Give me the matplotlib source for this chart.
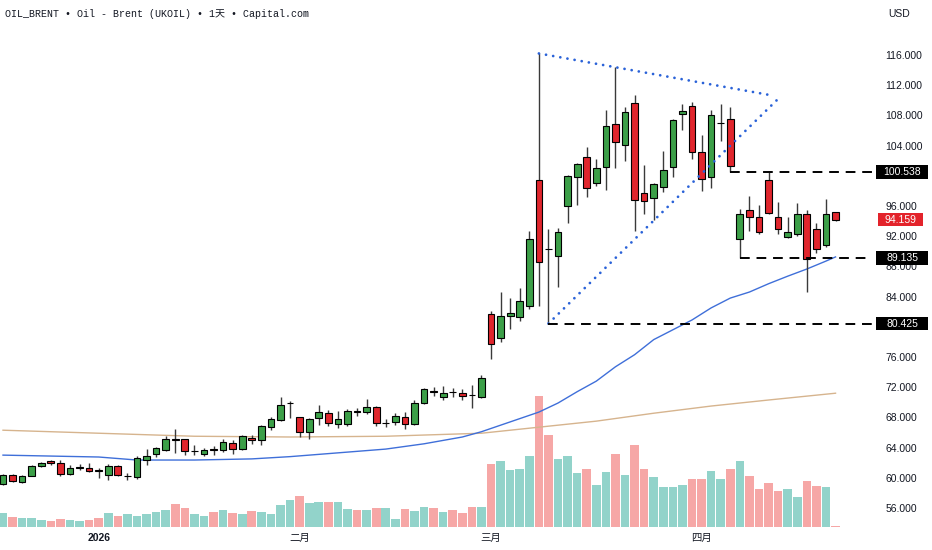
import matplotlib
matplotlib.use("Agg")
import matplotlib.pyplot as plt
from matplotlib.patches import Rectangle
from matplotlib.transforms import blended_transform_factory

# daily candles, oldest first (index 10 = first session of 2026)
opens = [59.2, 60.4, 59.5, 60.3, 61.55, 62.2, 61.9, 60.5, 61.35, 61.35,
         61.0, 60.35, 61.6, 60.2, 60.05, 62.4, 63.1, 63.7, 65.15, 65.1,
         63.5, 63.15, 63.75, 63.7, 64.65, 63.8, 65.3, 65.0, 66.7, 67.65,
         69.85, 68.0, 66.0, 67.9, 68.55, 67.1, 67.1, 68.8, 68.75, 69.4,
         67.25, 67.45, 68.0, 67.1, 69.95, 71.45, 70.75, 71.35, 71.2, 71.0,
         70.75, 81.7, 78.5, 81.45, 81.3, 82.7, 99.5, 90.35, 89.4, 96.0,
         99.9, 102.55, 99.0, 101.2, 106.9, 104.1, 109.7, 97.7, 97.0, 98.5,
         101.1, 108.15, 109.25, 103.1, 99.8, 106.95, 107.5, 91.6, 95.5, 94.6,
         99.45, 94.5, 91.95, 92.3, 95.0, 92.9, 90.8, 95.2]
highs = [60.5, 60.5, 60.4, 61.7, 62.1, 62.35, 62.35, 61.7, 61.8, 62.0,
         61.35, 61.8, 61.75, 60.6, 62.9, 63.8, 64.1, 65.5, 66.4, 65.2,
         64.35, 63.9, 64.2, 65.1, 65.0, 65.6, 65.7, 67.0, 68.1, 70.65,
         70.2, 68.1, 67.9, 69.6, 69.0, 68.9, 69.1, 69.3, 70.4, 69.5,
         67.75, 68.55, 68.7, 70.3, 71.85, 72.0, 72.1, 71.85, 71.7, 72.3,
         73.6, 82.1, 84.65, 83.8, 85.2, 92.7, 116.2, 93.0, 93.05, 100.1,
         101.75, 103.8, 102.2, 108.7, 114.45, 109.15, 110.7, 101.4, 99.0, 103.3,
         107.5, 109.5, 109.8, 105.4, 108.7, 109.5, 109.1, 95.6, 97.3, 96.15,
         100.5, 96.5, 94.6, 96.35, 95.5, 93.8, 96.9, 95.2]
lows = [59.1, 59.4, 59.3, 60.2, 61.4, 61.7, 60.3, 60.4, 61.0, 60.7,
        60.0, 59.7, 60.3, 59.7, 59.8, 61.7, 62.7, 63.6, 63.3, 63.0,
        63.0, 62.9, 63.0, 63.4, 63.15, 63.7, 64.5, 64.35, 66.3, 67.5,
        67.9, 65.45, 65.1, 67.0, 66.8, 66.6, 66.9, 68.2, 68.5, 66.9,
        66.7, 66.95, 66.5, 67.0, 69.8, 70.8, 70.3, 70.65, 70.3, 69.2,
        70.5, 75.7, 78.0, 79.7, 80.8, 82.3, 82.8, 80.425, 85.3, 93.8,
        96.1, 97.25, 98.65, 98.1, 101.0, 102.0, 92.7, 95.0, 94.15, 97.8,
        99.9, 106.1, 102.2, 98.0, 98.4, 104.65, 100.538, 89.135, 92.7, 92.3,
        95.0, 92.3, 91.7, 92.0, 84.65, 89.75, 90.5, 94.05]
closes = [60.4, 59.6, 60.3, 61.6, 62.0, 61.9, 60.45, 61.3, 61.4, 60.9,
          60.9, 61.6, 60.4, 60.25, 62.6, 62.9, 63.9, 65.1, 65.05, 63.55,
          63.6, 63.7, 63.65, 64.8, 63.8, 65.5, 65.0, 66.8, 67.75, 69.7,
          69.95, 66.1, 67.75, 68.7, 67.2, 67.75, 68.9, 68.7, 69.35, 67.3,
          67.3, 68.2, 67.1, 69.95, 71.7, 71.4, 71.2, 71.3, 70.85, 70.95,
          73.2, 77.7, 81.4, 81.8, 83.4, 91.6, 88.6, 90.25, 92.6, 100.0,
          101.6, 98.35, 101.0, 106.6, 104.45, 108.5, 96.8, 96.6, 98.9, 100.8,
          107.4, 108.6, 103.2, 99.55, 108.05, 107.05, 101.3, 95.0, 94.5, 92.5,
          95.1, 93.0, 92.5, 94.9, 88.95, 90.25, 95.0, 94.159]
volumes = [13.7, 10.3, 9.3, 8.7, 7.0, 6.0, 8.0, 7.0, 6.0, 7.0,
           8.7, 13.7, 11.3, 13.3, 11.3, 13.3, 14.7, 17.3, 23.0, 19.3,
           13.0, 11.0, 15.3, 16.7, 14.3, 12.7, 16.0, 14.7, 13.3, 22.0,
           27.0, 31.0, 24.3, 25.3, 25.3, 25.3, 17.7, 17.0, 17.0, 18.7,
           19.3, 8.0, 18.0, 16.0, 20.0, 18.7, 14.7, 16.7, 14.0, 20.3,
           20.3, 63.0, 66.0, 57.5, 58.2, 70.7, 131.2, 92.5, 67.7, 70.7,
           54.0, 58.0, 42.0, 55.0, 72.7, 52.3, 81.7, 58.0, 50.0, 39.7,
           39.7, 42.0, 47.7, 48.0, 56.3, 48.0, 58.0, 66.3, 50.7, 37.7,
           44.3, 36.3, 38.3, 30.3, 45.7, 40.7, 40.3, 1.0]

# moving averages
ma_fast_idx = [0, 10, 14, 20, 26, 30, 35, 40, 44, 48, 50, 53, 56, 58, 60,
               62, 64, 66, 68, 70, 72, 74, 76, 78, 80, 82, 84, 86, 87]
ma_fast = [63.0, 62.75, 62.35, 62.35, 62.5, 62.8, 63.3, 63.8, 64.5, 65.4,
           66.1, 67.4, 68.7, 69.9, 71.4, 72.8, 74.7, 76.3, 78.3, 79.6,
           80.9, 82.5, 83.8, 84.6, 85.7, 86.7, 87.65, 88.7, 89.25]
ma_slow_idx = [0, 10, 20, 30, 40, 50, 56, 62, 68, 74, 80, 87]
ma_slow = [66.3, 65.9, 65.5, 65.4, 65.5, 65.9, 66.7, 67.5, 68.55, 69.5, 70.3, 71.2]

month_pos = [10, 31, 51, 73]
month_labels = ["2026", "二月", "三月", "四月"]
# 80 and 100 sit under the level boxes, so they are left out
price_ticks = [56, 60, 64, 68, 72, 76, 84, 88, 92, 96, 104, 108, 112, 116]

levels = [100.538, 89.135, 80.425]
level_start = [76, 77, 57]
last_price = 94.159

tri_top_x = [56, 80.55]
tri_top_y = [116.2, 110.6]
tri_low_x = [57, 80.85]
tri_low_y = [80.425, 110.0]

GREEN = "#3c9f48"
RED = "#e0262d"
TEAL = "#92d3ca"
PINK = "#f6a7a6"
TXT = "#131722"

fig = plt.figure(figsize=(9.32, 5.5), dpi=100)
rect = [0, 23 / 550, 872 / 932, 527 / 550]
axv = fig.add_axes(rect, zorder=0)
ax = fig.add_axes(rect, zorder=1)
ax.patch.set_visible(False)

xlim = (-0.313, 90.81)
n = len(closes)
xs = list(range(n))
up = [c >= o for o, c in zip(opens, closes)]

# volume
axv.bar(xs, volumes, width=0.9, color=[TEAL if u else PINK for u in up], linewidth=0)
axv.set_xlim(xlim)
axv.set_ylim(0, 527)
axv.axis("off")

# moving averages
ax.plot(ma_slow_idx, ma_slow, color="#d6b48e", lw=1, zorder=2)
ax.plot(ma_fast_idx, ma_fast, color="#3f6fd9", lw=1, zorder=2)

# candles
ax.vlines(xs, lows, highs, color="#3a3a3a", lw=1, zorder=3)
bottoms = [min(o, c) for o, c in zip(opens, closes)]
heights = [max(abs(c - o), 0.02) for o, c in zip(opens, closes)]
ax.bar(xs, heights, bottom=bottoms, width=0.7,
       color=[GREEN if u else RED for u in up], edgecolor="black", linewidth=0.8, zorder=4)

# triangle
for tx, ty in [(tri_top_x, tri_top_y), (tri_low_x, tri_low_y)]:
    ax.plot(tx, ty, color="#2a62d8", lw=2.0, linestyle=(0, (0.01, 2.6)),
            dash_capstyle="round", zorder=5)

# horizontal levels
for lv, st in zip(levels, level_start):
    ax.hlines(lv, st, xlim[1], color="black", lw=1.4, linestyles=(0, (5, 3.5)), zorder=5)

ax.set_xlim(xlim)
ax.set_ylim(53.48, 123.28)
for s in ax.spines.values():
    s.set_visible(False)

ax.yaxis.tick_right()
ax.set_yticks(price_ticks)
ax.set_yticklabels([f"{p:.3f}" for p in price_ticks], family="Liberation Sans")
ax.tick_params(axis="y", length=0, pad=9.5, labelsize=7.5, colors=TXT)

ax.set_xticks(month_pos)
ax.set_xticklabels(month_labels, family=["Noto Sans CJK SC", "DejaVu Sans"])
ax.tick_params(axis="x", length=0, pad=4, labelsize=7.5, colors=TXT)
ax.get_xticklabels()[0].set_fontweight("bold")
ax.get_xticklabels()[0].set_family("Liberation Sans")

# price boxes on the right scale
tr = blended_transform_factory(ax.transAxes, ax.transData)
for lv in levels:
    ax.add_patch(Rectangle((876 / 872, lv - 0.9), 52 / 872, 1.8, transform=tr,
                           facecolor="black", edgecolor="none", clip_on=False, zorder=10))
    ax.text(902 / 872, lv, f"{lv:.3f}", transform=tr, ha="center", va="center",
            color="white", fontsize=7.5, family="Liberation Sans", clip_on=False, zorder=11)
ax.add_patch(Rectangle((878 / 872, last_price - 0.85), 45 / 872, 1.7, transform=tr,
                       facecolor="#e3232b", edgecolor="none", clip_on=False, zorder=10))
ax.text(900.5 / 872, last_price, f"{last_price:.3f}", transform=tr, ha="center", va="center",
        color="white", fontsize=7.5, family="Liberation Sans", clip_on=False, zorder=11)

fig.text(5 / 932, 1 - 14 / 550, "OIL_BRENT • Oil - Brent (UKOIL) • 1天 • Capital.com",
         ha="left", va="center", fontsize=7.2, color=TXT,
         family=["Liberation Mono", "DejaVu Sans Mono", "Noto Sans CJK SC"])
fig.text(899 / 932, 1 - 14 / 550, "USD", ha="center", va="center", fontsize=7.5,
         color=TXT, family="Liberation Sans")

fig.savefig("out.png", dpi=100)
